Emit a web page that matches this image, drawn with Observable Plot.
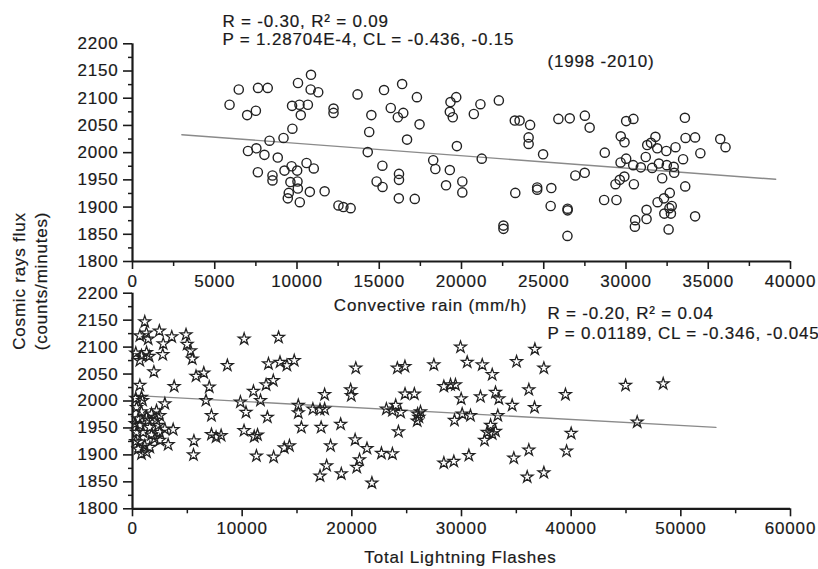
<!DOCTYPE html>
<html><head><meta charset="utf-8">
<script src="https://cdn.jsdelivr.net/npm/d3@7"></script>
<script src="https://cdn.jsdelivr.net/npm/@observablehq/plot@0.6"></script>
<style>
body{margin:0;background:#fff;}
#wrap{position:relative;width:818px;height:569px;font-family:"Liberation Sans",Arial,sans-serif;color:#1a1a1a;overflow:hidden;}
#wrap svg{position:absolute;left:0;top:0;}
#wrap svg text{stroke:#1a1a1a;stroke-width:0.2px;}
.ylab{position:absolute;white-space:nowrap;font-size:17px;letter-spacing:0.8px;transform:translate(-50%,-50%) rotate(-90deg);-webkit-text-stroke:0.2px #1a1a1a;}
</style></head><body><div id="wrap"></div><script>
// ---------- data ----------
const yDomain = [1800, 2200];
const yMajor = [1800,1850,1900,1950,2000,2050,2100,2150,2200];
const yMinor = [1825,1875,1925,1975,2025,2075,2125,2175];

const topXDomain = [0, 40000];
const topXMajor = [0,5000,10000,15000,20000,25000,30000,35000,40000];
const topXMinor = [2500,7500,12500,17500,22500,27500,32500,37500];

const botXDomain = [0, 60000];
const botXMajor = [0,10000,20000,30000,40000,50000,60000];
const botXMinor = [5000,15000,25000,35000,45000,55000];

// Convective rain (mm/h) vs cosmic ray flux
const rainX = [5900,6460,6970,7500,7630,8220,7020,7530,8020,8330,7620,8510,8510,8830,9180,9720,9240,9670,10010,10580,
  11020,9600,10030,10050,9500,9440,10170,10780,11680,12520,12820,13260,9700,10150,10660,10230,10060,10850,10830,11290,
  12220,12220,13680,14520,14390,14300,15190,14840,15200,15290,15700,16390,16460,16130,16690,16200,16200,16190,17160,17290,
  17450,19330,19680,19290,19470,19720,18280,18410,19290,19060,20050,20050,20750,21150,21230,22270,23240,23530,24170,24080,
  24080,24960,23270,24600,24600,25460,25420,26450,26450,22550,22550,26440,25890,26580,27500,27790,26920,27490,28710,28670,
  29420,30010,30450,29680,29910,29670,30010,30440,30900,31200,31290,31520,31790,31900,32450,33010,32000,32480,32900,33470,
  31590,32930,32200,29360,29620,29900,30480,33600,33580,33620,34200,35730,36050,34520,32660,32310,31920,32780,32640,32330,
  32730,31250,31250,30560,30540,34200,32590];
const rainY = [2088,2116,2069,2077,2119,2119,2003,2008,1996,2022,1964,1958,1949,1991,2027,2044,1967,1975,1967,1981,
  1971,1946,1947,1934,1926,1916,1909,1928,1929,1903,1900,1898,2086,2088,2088,2069,2128,2143,2116,2111,
  2081,2073,2107,2069,2038,2001,1976,1947,1937,2115,2082,2126,2073,2065,2024,1961,1950,1916,1915,2102,
  2052,2093,2102,2075,2065,2012,1986,1970,1968,1940,1947,1927,2071,2089,1989,2096,2059,2059,2051,2028,
  2016,1997,1926,1936,1932,1935,1902,1897,1894,1866,1860,1847,2062,2063,2068,2046,1958,1963,2000,1913,
  1913,2058,2062,2030,2019,1982,1989,1977,1973,1992,2014,2018,2029,2008,2003,2010,1980,1977,1974,1988,
  1972,1963,1953,1942,1950,1956,1942,1938,2064,2027,2028,2025,2010,1999,1926,1916,1909,1902,1898,1888,
  1888,1895,1878,1876,1864,1883,1859];

// Total lightning flashes vs cosmic ray flux
const flashX = [1120,670,1270,1430,2450,3580,4880,2800,4980,5300,5450,300,820,1280,670,1520,2760,1950,5790,6500,
  8650,10180,670,3800,7000,820,920,6700,9840,11030,10350,7200,2950,2190,1730,2490,365,820,1280,520,
  1430,2190,670,2340,1580,2950,3710,365,975,2490,1730,2030,2490,670,3250,1120,1580,520,1280,820,
  5600,5560,7200,7620,8080,11670,12180,12840,12300,13320,12400,13450,14080,14750,10170,11100,11400,11300,12870,13840,
  14310,15120,15120,15400,16450,17100,17520,17520,17200,18060,17700,17100,19040,18980,19890,19950,20360,20300,20700,20450,
  21380,21830,22700,23700,23150,23700,24000,24450,24250,24150,24840,24850,25700,26000,25960,29910,27480,30520,31890,32800,
  35020,36690,37510,28390,29000,29450,29970,31730,33100,33410,34620,36140,36660,39480,26260,26110,29360,30060,30820,33310,
  32650,33100,32340,32100,32800,30670,28390,29300,34770,36140,35990,37510,39580,40000,44960,48390,46020,300,250,300];
const flashY = [2147,2121,2126,2115,2130,2119,2123,2106,2105,2093,2078,2089,2084,2090,2075,2083,2086,2054,2046,2052,
  2066,2115,2029,2027,2026,2007,2001,2001,1998,2018,1979,1973,1995,1982,1976,1973,1988,1980,1970,1967,
  1964,1964,1955,1955,1951,1948,1947,1942,1942,1942,1937,1930,1927,1924,1919,1917,1914,1911,1905,1902,
  1926,1900,1938,1933,1936,2001,2030,2038,1970,2118,2069,2072,2066,2075,1945,1934,1937,1898,1896,1913,
  1917,1992,1978,1951,1985,1984,2012,1985,1951,1917,1880,1861,1865,1957,2021,2010,2061,1928,1891,1877,
  1912,1848,1903,1902,1985,1982,1992,1979,1943,2061,2064,2013,2013,1976,1963,2100,2067,2072,2067,2049,
  2073,2096,2061,2027,2030,2030,2004,2008,2016,2004,1992,2021,1988,2012,1980,1970,1964,1976,1973,1973,
  1955,1944,1942,1927,1939,1899,1885,1888,1894,1909,1859,1867,1907,1940,2029,2032,1961,2005,1958,1925];

// fitted regression lines (endpoints)
const rainFitX = [3000, 39100];
const rainFitY = [2033, 1951];
const flashFitX = [430, 53200];
const flashFitY = [2010, 1951];

const rainStats = ["R = -0.30, R\u00B2 = 0.09", "P = 1.28704E-4, CL = -0.436, -0.15"];
const periodLabel = "(1998 -2010)";
const flashStats = ["R = -0.20, R\u00B2 = 0.04", "P = 0.01189, CL = -0.346, -0.045"];
const rainTitle = "Convective rain (mm/h)";
const flashTitle = "Total Lightning Flashes";
const yTitle = ["Cosmic rays flux", "(counts/minutes)"];

// ---------- drawing ----------
const ink = "#1a1a1a";
const font = "'Liberation Sans', Arial, sans-serif";
const baseStyle = {background: "transparent", fontFamily: font, fontSize: "17px", color: ink, letterSpacing: "0.8px"};

function axes(xMajor, xMinor, xDom) {
  return [
    Plot.axisY(yMinor, {tickSize: 4, tickFormat: () => "", label: null, strokeWidth: 1.5}),
    Plot.axisY(yMajor, {tickSize: 9, tickPadding: 5, tickFormat: "d", label: null, strokeWidth: 1.6, fontSize: 17}),
    Plot.axisX(xMinor, {tickSize: 5, tickFormat: () => "", label: null, strokeWidth: 1.5}),
    Plot.axisX(xMajor, {tickSize: 8, tickPadding: 5, tickFormat: "d", label: null, strokeWidth: 1.6, fontSize: 17}),
    Plot.ruleX([xDom[0]], {y1: yDomain[0], y2: yDomain[1], stroke: ink, strokeWidth: 2.2}),
    Plot.ruleY([yDomain[0]], {x1: xDom[0], x2: xDom[1], stroke: ink, strokeWidth: 2.2})
  ];
}

const txt = (s, anchor, dx, dy, ta) => Plot.text([s], {frameAnchor: anchor, lineAnchor: "middle", dx, dy, textAnchor: ta, fontSize: 17, fill: ink});

const topPlot = Plot.plot({
  width: 818, height: 330,
  marginLeft: 132, marginRight: 28, marginTop: 43.3, marginBottom: 69,
  style: baseStyle,
  x: {domain: topXDomain, label: null},
  y: {domain: yDomain, label: null},
  marks: [
    ...axes(topXMajor, topXMinor, topXDomain),
    Plot.line(rainFitX, {x: rainFitX, y: rainFitY, stroke: "#8a8a8a", strokeWidth: 1.4}),
    Plot.dot(rainX, {x: rainX, y: rainY, r: 4.6, fill: "none", stroke: "#222", strokeWidth: 1.4}),
    txt(rainStats[0], "top-left", 90, -22.5, "start"),
    txt(rainStats[1], "top-left", 90, -4, "start"),
    txt(periodLabel, "top-left", 415, 18, "start"),
    txt(rainTitle, "bottom", -31, 44, "middle")
  ]
});

const botPlot = Plot.plot({
  width: 818, height: 569,
  marginLeft: 132, marginRight: 28, marginTop: 292.7, marginBottom: 60.7,
  style: baseStyle,
  x: {domain: botXDomain, label: null},
  y: {domain: yDomain, label: null},
  marks: [
    ...axes(botXMajor, botXMinor, botXDomain),
    Plot.line(flashFitX, {x: flashFitX, y: flashFitY, stroke: "#8a8a8a", strokeWidth: 1.4}),
    Plot.dot(flashX, {x: flashX, y: flashY, symbol: "star", r: 3.7, fill: "none", stroke: "#222", strokeWidth: 1.25}),
    txt(flashStats[0], "top-left", 415, 20.5, "start"),
    txt(flashStats[1], "top-left", 415, 40.5, "start"),
    txt(flashTitle, "bottom", -1, 48.5, "middle")
  ]
});

const wrap = document.getElementById("wrap");
wrap.appendChild(topPlot);
wrap.appendChild(botPlot);
[[yTitle[0], 20], [yTitle[1], 42]].forEach(([t, x]) => {
  const d = document.createElement("div");
  d.className = "ylab";
  d.textContent = t;
  d.style.left = x + "px";
  d.style.top = "281px";
  wrap.appendChild(d);
});
</script></body></html>
